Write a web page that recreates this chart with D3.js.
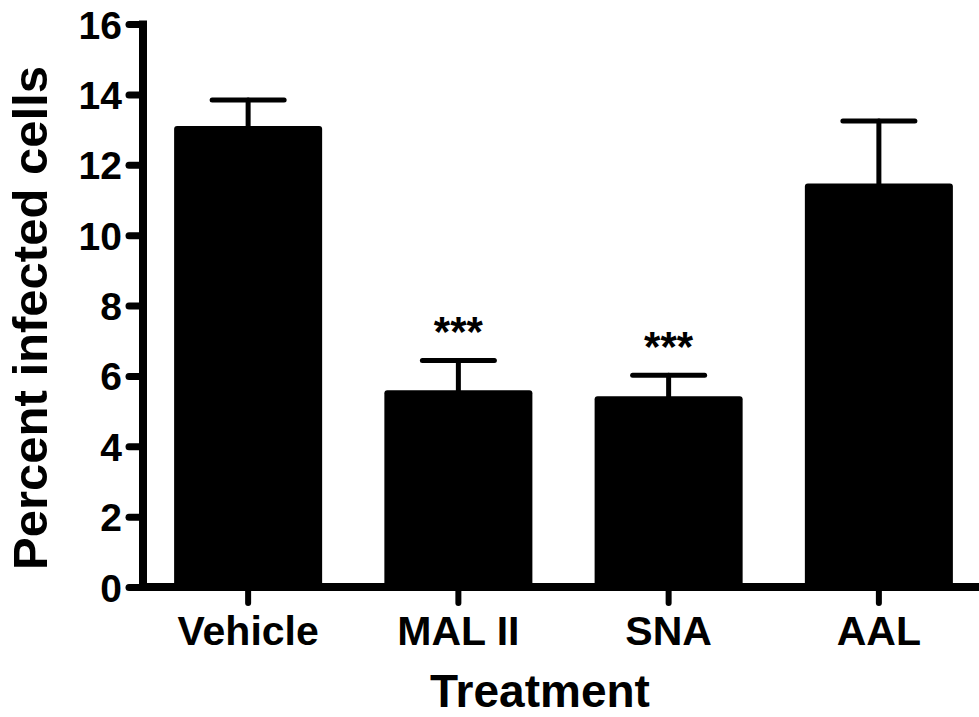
<!DOCTYPE html>
<html>
<head>
<meta charset="utf-8">
<script src="https://cdn.jsdelivr.net/npm/d3@7"></script>
<style>
  html, body { margin: 0; padding: 0; background: #fff; }
  svg { display: block; font-family: "Liberation Sans", Arial, Helvetica, sans-serif; font-weight: bold; }
</style>
</head>
<body>
<svg id="chart" width="979" height="717"></svg>
<script>
// Percent infected cells per lectin treatment (mean ± SEM)
const categories = ["Vehicle", "MAL II", "SNA", "AAL"];
const means = [13.1, 5.59, 5.42, 11.47];
const sem = [0.74, 0.85, 0.60, 1.77];
const significance = ["", "***", "***", ""];
const yTicks = [0, 2, 4, 6, 8, 10, 12, 14, 16];

const svg = d3.select("#chart");
const ink = "#000";

const x = d3.scaleBand()
  .domain(categories)
  .range([143, 984])
  .paddingInner(0.296)
  .paddingOuter(0.148);

const y = d3.scaleLinear().domain([0, 16]).range([587, 24]);

// Bars
svg.append("g").selectAll("rect")
  .data(categories)
  .join("rect")
  .attr("x", d => x(d))
  .attr("width", x.bandwidth())
  .attr("y", (d, i) => y(means[i]))
  .attr("height", (d, i) => y(0) - y(means[i]))
  .attr("rx", 3)
  .attr("fill", ink);

// Error bars (upper only)
const err = svg.append("g")
  .attr("stroke", ink)
  .attr("stroke-width", 5)
  .attr("stroke-linecap", "round");
categories.forEach((c, i) => {
  const cx = x(c) + x.bandwidth() / 2;
  err.append("line")
    .attr("x1", cx).attr("x2", cx)
    .attr("y1", y(means[i])).attr("y2", y(means[i] + sem[i]));
  err.append("line")
    .attr("x1", cx - 36).attr("x2", cx + 36)
    .attr("y1", y(means[i] + sem[i])).attr("y2", y(means[i] + sem[i]));
});

// Significance markers
svg.append("g").selectAll("text")
  .data(categories)
  .join("text")
  .attr("x", d => x(d) + x.bandwidth() / 2)
  .attr("y", (d, i) => y(means[i] + sem[i]) - 14)
  .attr("text-anchor", "middle")
  .attr("font-size", 42)
  .attr("font-weight", "bold")
  .attr("fill", ink)
  .text((d, i) => significance[i]);

// Y axis
const yAxis = svg.append("g")
  .attr("transform", "translate(143,0)")
  .call(d3.axisLeft(y).tickValues(yTicks).tickSize(16).tickPadding(5).tickFormat(d3.format("d")));
yAxis.select(".domain").remove();
yAxis.selectAll(".tick line")
  .attr("stroke", ink).attr("stroke-width", 7).attr("stroke-linecap", "round")
  .attr("x1", 0).attr("x2", -14);
yAxis.selectAll(".tick text")
  .attr("font-size", 39).attr("font-weight", "bold").attr("fill", ink)
  .attr("font-family", "Liberation Sans, Arial, sans-serif")
  .attr("x", -21).attr("dy", "0.36em");
svg.append("line")
  .attr("x1", 143).attr("x2", 143)
  .attr("y1", y(16) - 3.5).attr("y2", y(0))
  .attr("stroke", ink).attr("stroke-width", 8);

// X axis
const xAxis = svg.append("g")
  .attr("transform", `translate(0,${y(0)})`)
  .call(d3.axisBottom(x).tickSize(16).tickPadding(10));
xAxis.select(".domain").remove();
xAxis.selectAll(".tick line")
  .attr("stroke", ink).attr("stroke-width", 6).attr("stroke-linecap", "round")
  .attr("y1", 0).attr("y2", 16);
xAxis.selectAll(".tick text")
  .attr("font-size", 41).attr("font-weight", "bold").attr("fill", ink)
  .attr("font-family", "Liberation Sans, Arial, sans-serif")
  .attr("y", 58).attr("dy", 0);
svg.append("line")
  .attr("x1", 139).attr("x2", 979)
  .attr("y1", y(0)).attr("y2", y(0))
  .attr("stroke", ink).attr("stroke-width", 8);

// Axis titles
svg.append("text")
  .attr("x", 540).attr("y", 707)
  .attr("text-anchor", "middle")
  .attr("font-size", 46)
  .attr("fill", ink)
  .text("Treatment");

svg.append("text")
  .attr("transform", "translate(47,318) rotate(-90)")
  .attr("text-anchor", "middle")
  .attr("font-size", 49)
  .attr("fill", ink)
  .text("Percent infected cells");
</script>
</body>
</html>
